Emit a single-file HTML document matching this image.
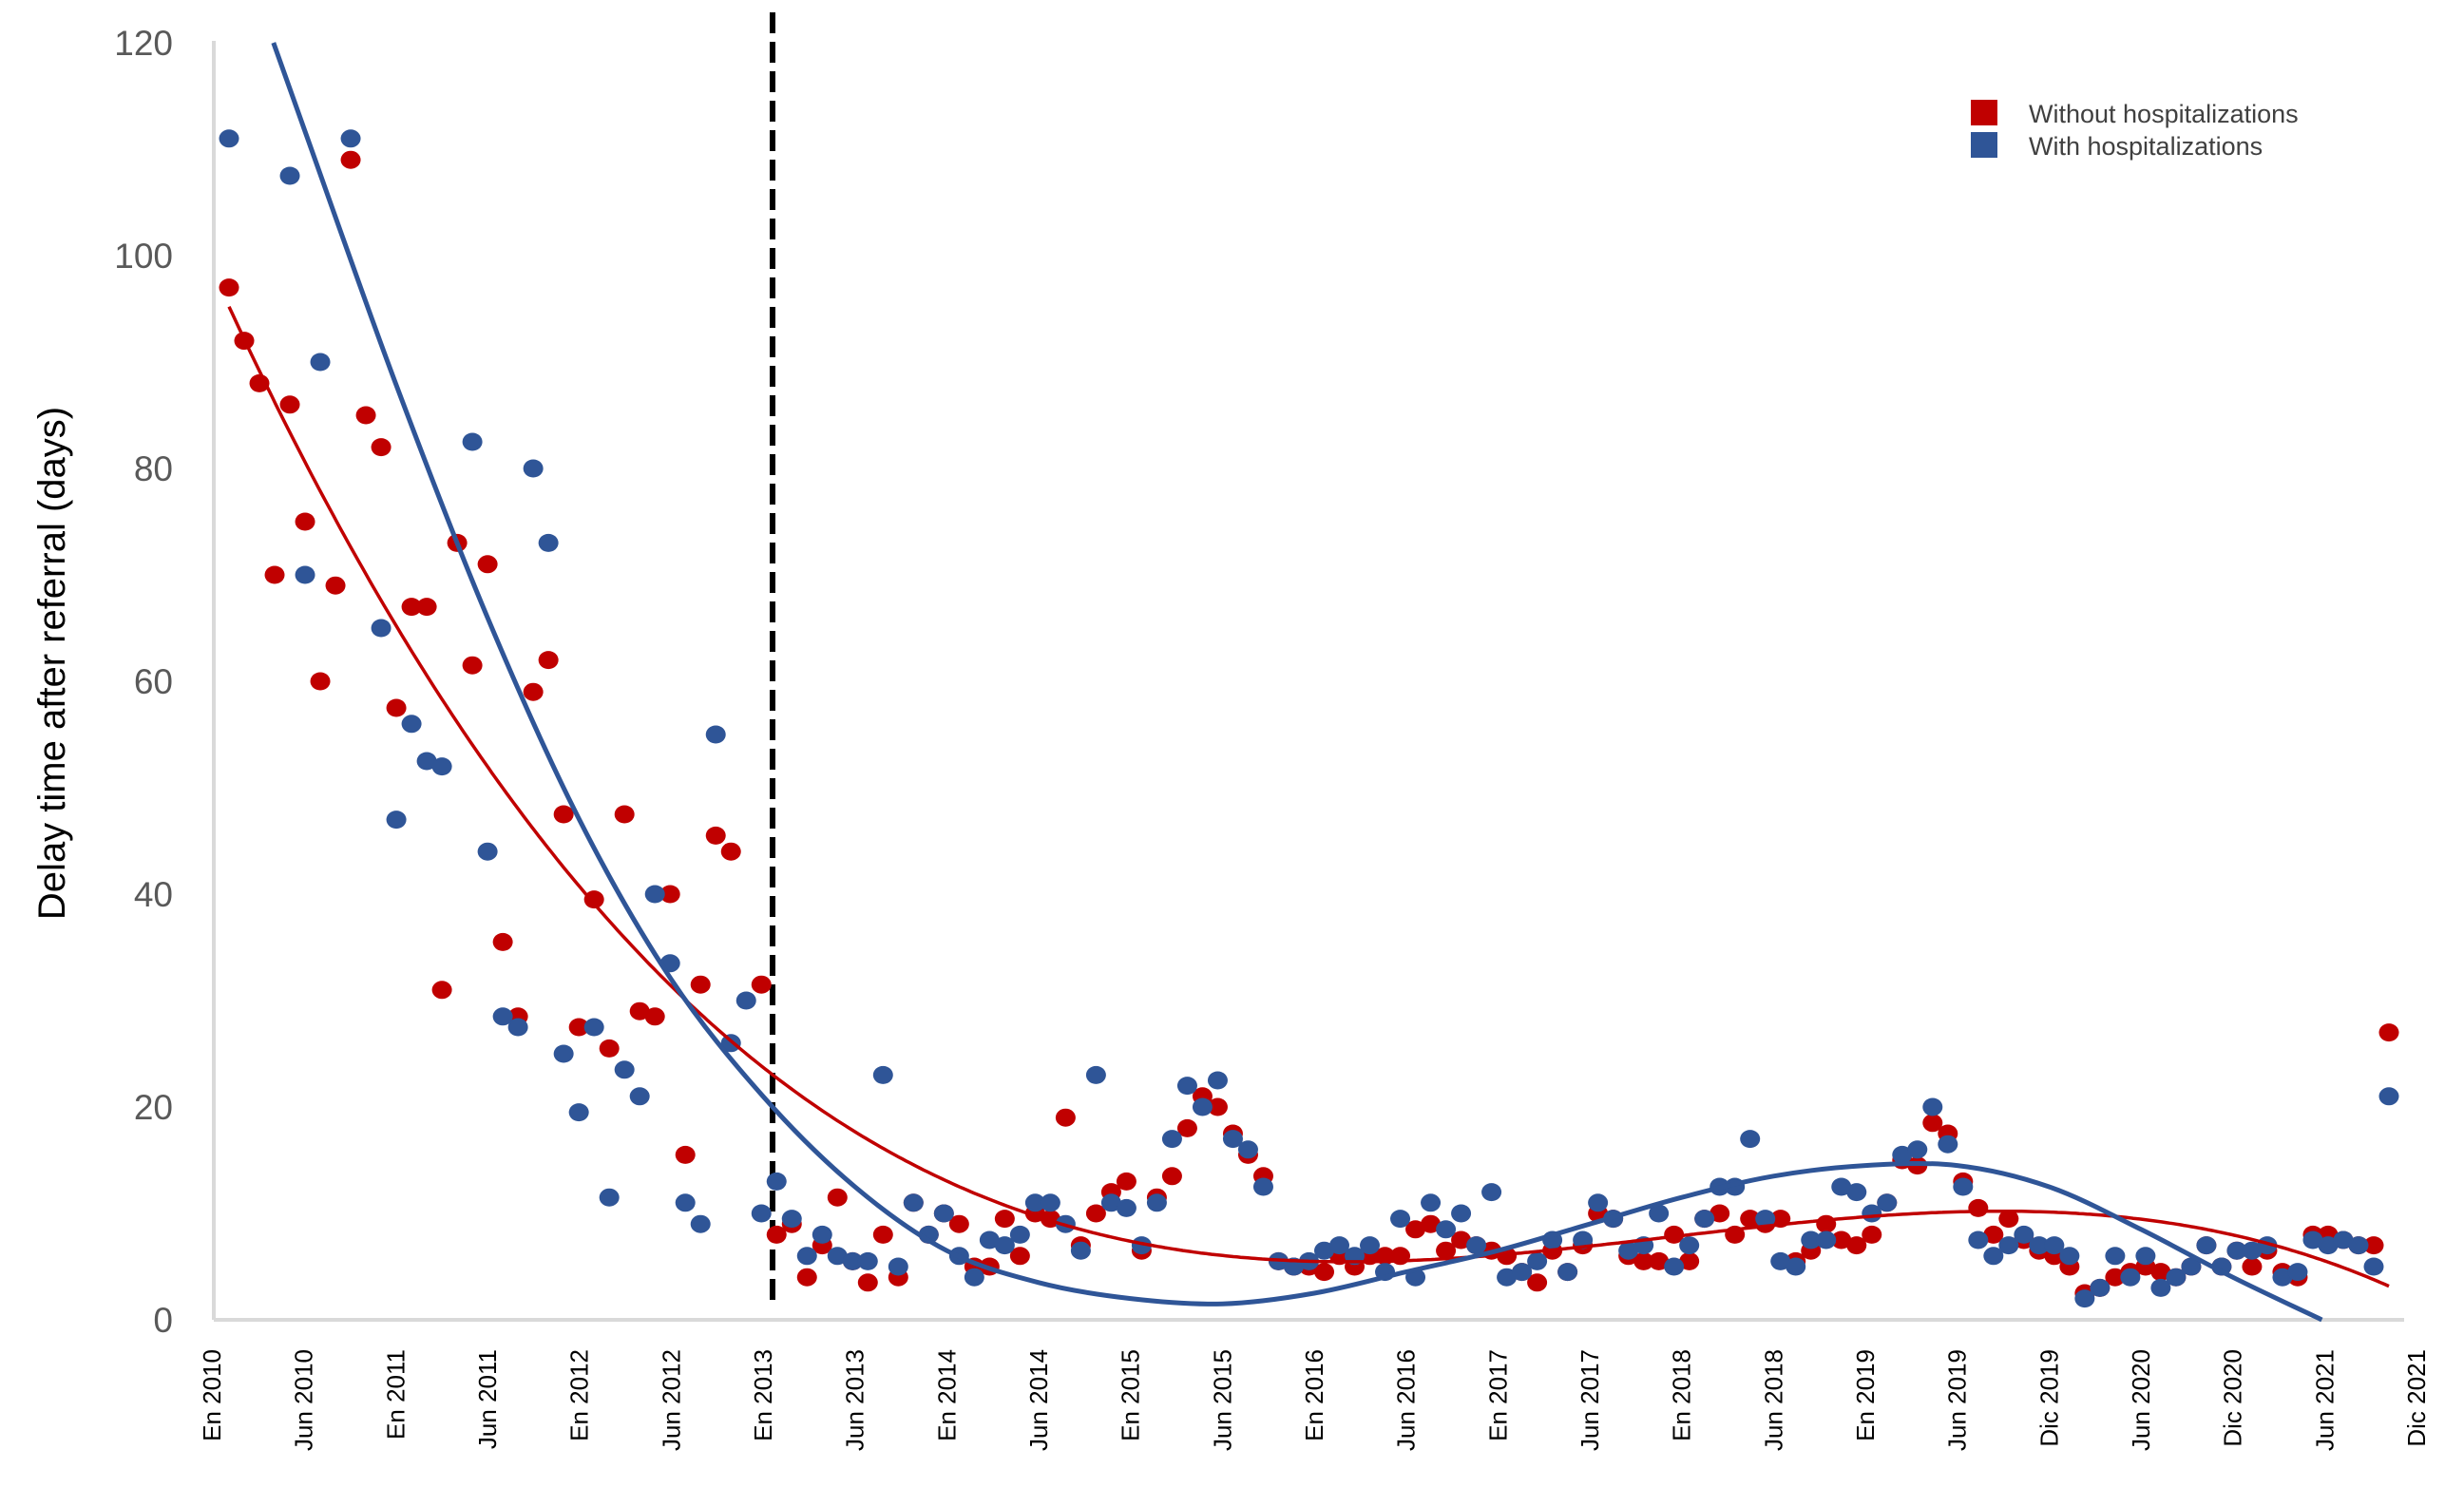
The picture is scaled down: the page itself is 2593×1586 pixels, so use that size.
<!DOCTYPE html>
<html><head><meta charset="utf-8"><style>
html,body{margin:0;padding:0;background:#fff;}
svg{display:block;font-family:"Liberation Sans",sans-serif;}
</style></head><body>
<svg id="chart" width="2593" height="1586" viewBox="0 0 2593 1586" xmlns="http://www.w3.org/2000/svg">
<rect width="2593" height="1586" fill="#fff"/>
<g id="grid"></g>
<g id="marks"></g>
<text x="0" y="0" transform="translate(68,698) rotate(-90)" text-anchor="middle" font-size="40" fill="#000">Delay time after referral (days)</text>
<g>
<rect x="2074" y="105" width="28" height="27" fill="#C00000"/>
<text x="2135" y="129" font-size="27" fill="#404040">Without hospitalizations</text>
<rect x="2074" y="139" width="28" height="27" fill="#2F5597"/>
<text x="2135" y="163" font-size="27" fill="#404040">With hospitalizations</text>
</g>
</svg>
<script>
const xLabels=["En 2010","Jun 2010","En 2011","Jun 2011","En 2012","Jun 2012","En 2013","Jun 2013","En 2014","Jun 2014","En 2015","Jun 2015","En 2016","Jun 2016","En 2017","Jun 2017","En 2018","Jun 2018","En 2019","Jun 2019","Dic 2019","Jun 2020","Dic 2020","Jun 2021","Dic 2021"];
const yTicks=[0,20,40,60,80,100,120];
const redValues=[97,92,88,70,86,75,60,69,109,85,82,57.5,67,67,31,73,61.5,71,35.5,28.5,59,62,47.5,27.5,39.5,25.5,47.5,29,28.5,40,15.5,31.5,45.5,44,null,31.5,8,9,4,7,11.5,5.5,3.5,8,4,11,8,10,9,5,5,9.5,6,10,9.5,19,7,10,12,13,6.5,11.5,13.5,18,21,20,17.5,15.5,13.5,5.5,5,5,4.5,6,5,6,6,6,8.5,9,6.5,7.5,7,6.5,6,4.5,3.5,6.5,4.5,7,10,9.5,6,5.5,5.5,8,5.5,9.5,10,8,9.5,9,9.5,5.5,6.5,9,7.5,7,8,11,15,14.5,18.5,17.5,13,10.5,8,9.5,7.5,6.5,6,5,2.5,3,4,4.5,5,4.5,4,5,7,5,6.5,5,6.5,4.5,4,8,8,7.5,7,7,27];
const blueValues=[111,null,null,null,107.5,70,90,null,111,null,65,47,56,52.5,52,null,82.5,44,28.5,27.5,80,73,25,19.5,27.5,11.5,23.5,21,40,33.5,11,9,55,26,30,10,13,9.5,6,8,6,5.5,5.5,23,5,11,8,10,6,4,7.5,7,8,11,11,9,6.5,23,11,10.5,7,11,17,22,20,22.5,17,16,12.5,5.5,5,5.5,6.5,7,6,7,4.5,9.5,4,11,8.5,10,7,12,4,4.5,5.5,7.5,4.5,7.5,11,9.5,6.5,7,10,5,7,9.5,12.5,12.5,17,9.5,5.5,5,7.5,7.5,12.5,12,10,11,15.5,16,20,16.5,12.5,7.5,6,7,8,7,7,6,2,3,6,4,6,3,4,5,7,5,6.5,6.5,7,4,4.5,7.5,7,7.5,7,5,21];
// blue trendline, at tick-label positions (in label units)
const blueTrendAt=[0.67,1,2,3,4,5,6,7,8,9,10,11,12,13,14,15,16,17,18,19,20,21,22,22.97];
const blueTrendValues=[120,112,88,66,47,32,21,12.5,6.5,3.5,2,1.5,2.5,4.5,6.5,9,11.5,13.5,14.5,14.5,12.5,8.5,4,0];

const X0=225, Y0=1389, PXU=11.2, YTOP=Y0-120*PXU;
const P0=241, P1=2514, LBL0=223, LBL1=2543;
const NS="http://www.w3.org/2000/svg";
function yS(v){return Y0-v*PXU;}
function xS(i,n){return P0+i*(P1-P0)/(n-1);}
function xL(t){return LBL0+t*(LBL1-LBL0)/(xLabels.length-1);}
function mk(tag,attrs,parent){const e=document.createElementNS(NS,tag);for(const k in attrs)e.setAttribute(k,attrs[k]);parent.appendChild(e);return e;}
const grid=document.getElementById('grid'), marks=document.getElementById('marks');

let e=mk('line',{x1:X0,y1:YTOP-2,x2:X0,y2:Y0,stroke:'#d9d9d9','stroke-width':4},grid);


e=mk('line',{x1:X0,y1:Y0,x2:2530,y2:Y0,stroke:'#d9d9d9','stroke-width':4},grid);


yTicks.forEach(t=>{
  const tx=mk('text',{x:182,y:yS(t)+13,'text-anchor':'end','font-size':37,fill:'#595959'},grid);
  tx.textContent=t;
  
  
});
xLabels.forEach((l,j)=>{
  const cx=xL(j);
  const tx=mk('text',{x:0,y:0,transform:`translate(${cx+9},1420) rotate(-90)`,'text-anchor':'end','font-size':26,fill:'#000'},grid);
  tx.textContent=l;
  
  
});

e=mk('line',{x1:813,y1:13,x2:813,y2:1376,stroke:'#000','stroke-width':6,'stroke-dasharray':'22,9'},marks);



function polyfit(vals,deg){
  const n=vals.length;const pts=[];
  vals.forEach((v,i)=>{if(v!=null)pts.push([i/(n-1),v]);});
  const m=deg+1;const A=[];for(let r=0;r<m;r++){A.push(new Array(m+1).fill(0));}
  pts.forEach(([x,y])=>{for(let r=0;r<m;r++){for(let c=0;c<m;c++)A[r][c]+=Math.pow(x,r+c);A[r][m]+=y*Math.pow(x,r);}});
  for(let c=0;c<m;c++){let p=c;for(let r=c+1;r<m;r++)if(Math.abs(A[r][c])>Math.abs(A[p][c]))p=r;[A[c],A[p]]=[A[p],A[c]];
    for(let r=0;r<m;r++){if(r===c)continue;const f=A[r][c]/A[c][c];for(let k=c;k<=m;k++)A[r][k]-=f*A[c][k];}}
  return A.map((row,i)=>row[m]/row[i]);
}
function trend(vals,deg,color,w,name){
  const co=polyfit(vals,deg);let d='';let pen=false;
  for(let s=0;s<=600;s++){const t=s/600;let v=0;co.forEach((c,k)=>v+=c*Math.pow(t,k));
    const x=P0+t*(P1-P0);
    if(v>120.5||v<0){pen=false;continue;}
    d+=(pen?'L':'M')+x.toFixed(1)+','+yS(v).toFixed(1);pen=true;}
  const p=mk('path',{d:d,fill:'none',stroke:color,'stroke-width':w},marks);
  
  
}
function splineTrend(ts,vs,color,w,name){
  const pts=ts.map((t,i)=>[xL(t),yS(vs[i])]);
  let d='M'+pts[0][0].toFixed(1)+','+pts[0][1].toFixed(1);
  for(let i=0;i<pts.length-1;i++){
    const p0=pts[Math.max(0,i-1)],p1=pts[i],p2=pts[i+1],p3=pts[Math.min(pts.length-1,i+2)];
    const c1=[p1[0]+(p2[0]-p0[0])/6,p1[1]+(p2[1]-p0[1])/6];
    const c2=[p2[0]-(p3[0]-p1[0])/6,p2[1]-(p3[1]-p1[1])/6];
    d+=` C${c1[0].toFixed(1)},${c1[1].toFixed(1)} ${c2[0].toFixed(1)},${c2[1].toFixed(1)} ${p2[0].toFixed(1)},${p2[1].toFixed(1)}`;
  }
  const p=mk('path',{d:d,fill:'none',stroke:color,'stroke-width':w},marks);
  
  
}
function dots(vals,color,name){
  const g=mk('g',{},marks);
  
  
  vals.forEach((v,i)=>{if(v==null)return;
    const c=mk('ellipse',{cx:xS(i,vals.length),cy:yS(v),rx:10.5,ry:9.5,fill:color},g);
    
    
  });
}
dots(redValues,'#C00000','without-hospitalizations');
dots(blueValues,'#2F5597','with-hospitalizations');
trend(redValues,3,'#C00000',3.5,'without-hospitalizations-trendline');
splineTrend(blueTrendAt,blueTrendValues,'#2F5597',5,'with-hospitalizations-trendline');
</script>
</body></html>
